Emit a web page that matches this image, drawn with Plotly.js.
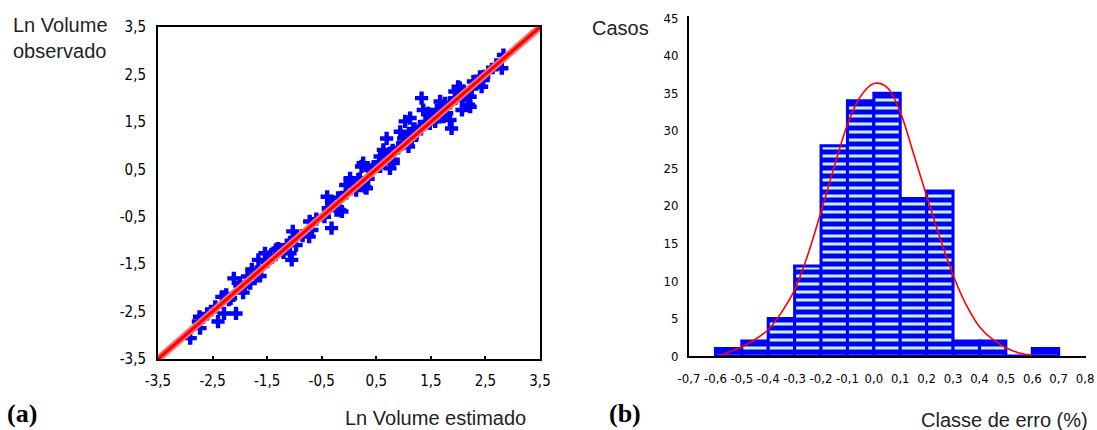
<!DOCTYPE html>
<html>
<head>
<meta charset="utf-8">
<script src="https://cdn.plot.ly/plotly-3.0.1.min.js"></script>
<style>html,body{margin:0;padding:0;background:#fff;}#chart{width:1097px;height:430px;}</style>
</head>
<body>
<div id="chart"></div>
<script>
// ---- Panel (a): observed vs estimated Ln Volume ----
var estimated = [-2.91,-2.74,-2.73,-2.76,-2.40,-2.29,-2.07,-2.33,-2.25,-2.17,-2.11,-2.00,-1.91,-1.81,-1.86,-1.94,-1.78,-1.66,-1.69,-1.63,
  -1.54,-1.45,-1.34,-1.30,-1.22,-1.14,-1.03,-1.05,-0.97,-1.08,-0.72,-0.73,-0.68,-0.40,-0.32,-0.23,-0.17,-0.32,-0.38,0.02,
  0.08,0.13,-0.06,0.26,0.32,0.39,0.17,0.69,0.63,0.75,0.81,0.94,1.03,1.12,1.00,1.18,1.15,1.33,1.36,1.45,
  1.48,1.58,1.67,1.76,1.79,1.85,1.88,1.94,2.03,2.07,2.16,2.19,2.07,2.37,2.43,2.83,2.80,2.28,2.43,-0.13,
  0.23,0.29,0.57,0.57,0.75,0.81,1.09,1.24,1.61,1.73,2.22,2.22,2.00,2.46,
  -2.60,-2.45,-2.20,-2.00,-1.70,-1.50,-1.35,-1.20,-1.00,-0.85,-0.60,-0.45,-0.30,-0.20,-0.05,0.05,0.20,0.35,0.45,0.55,
  0.65,0.80,0.90,1.00,1.10,1.20,1.30,1.40,1.50,1.60,1.70,1.85,1.95,2.10,2.25,2.40,2.55,2.70];
var observed = [-3.06,-2.61,-2.85,-2.71,-2.71,-2.54,-2.54,-2.19,-2.15,-2.22,-1.80,-1.90,-1.97,-1.90,-1.76,-2.10,-1.61,-1.41,-1.66,-1.75,
  -1.27,-1.34,-1.20,-1.17,-1.20,-1.10,-0.81,-1.41,-1.10,-1.27,-0.60,-0.92,-0.78,-0.08,-0.22,-0.36,-0.36,-0.74,-0.32,0.31,
  0.21,0.06,0.17,0.63,0.10,0.49,0.28,1.15,0.91,0.84,0.70,1.29,1.51,1.58,1.05,1.33,1.12,2.00,1.75,1.68,
  1.47,1.51,1.93,1.89,1.68,1.54,1.36,2.14,2.21,1.96,2.07,1.86,1.75,2.35,2.42,2.91,2.63,2.35,2.24,-0.39,
  0.56,0.13,0.77,0.56,0.52,0.63,0.98,1.26,1.75,1.61,2.03,1.82,2.24,2.38,
  -2.55,-2.40,-2.25,-1.95,-1.75,-1.45,-1.30,-1.25,-0.95,-0.90,-0.55,-0.50,-0.25,-0.10,0.00,0.15,0.30,0.30,0.55,0.65,
  0.75,0.90,0.95,1.15,1.25,1.35,1.40,1.50,1.65,1.60,1.80,1.90,2.00,2.15,2.20,2.45,2.55,2.70];
var lineX = [-3.5, 3.5];
var lineY = [-3.5, 3.5];
var tickValsA = [-3.5,-2.5,-1.5,-0.5,0.5,1.5,2.5,3.5];
var tickTextA = ['-3,5','-2,5','-1,5','-0,5','0,5','1,5','2,5','3,5'];
var tickTextAy = ['-3,5','-2,5','-1,5','-0,5','0,5','1,5','2,5','3,5'];

// ---- Panel (b): histogram of errors ----
var binCenters = [-0.55,-0.45,-0.35,-0.25,-0.15,-0.05,0.05,0.15,0.25,0.35,0.45,0.55,0.65];
var counts =     [1, 2, 5, 12, 28, 34, 35, 21, 22, 2, 2, 0, 1];
var curveX = [-0.58,-0.55,-0.5,-0.45,-0.4,-0.35,-0.3,-0.25,-0.2,-0.15,-0.1,-0.05,0,0.05,0.1,0.15,0.2,0.25,0.3,0.35,0.4,0.45,0.5,0.55,0.6];
var curveY = [0.1,0.5,1.2,2.2,3.5,5.8,8.8,13.5,19.2,25.2,30.8,34.6,36.3,35.8,32.5,27.0,21.3,15.8,10.8,6.8,3.9,2.2,1.1,0.4,0.1];
var tickValsBx = [-0.7,-0.6,-0.5,-0.4,-0.3,-0.2,-0.1,0,0.1,0.2,0.3,0.4,0.5,0.6,0.7,0.8];
var tickTextBx = ['-0,7','-0,6','-0,5','-0,4','-0,3','-0,2','-0,1','0,0','0,1','0,2','0,3','0,4','0,5','0,6','0,7','0,8'];
var tickValsBy = [0,5,10,15,20,25,30,35,40,45];
var tickTextBy = ['0','5','10','15','20','25','30','35','40','45'];

var W = 1097, H = 430;
function px(x){return x / W;}
function py(y){return (H - y) / H;}
var tickFontA = {family: 'DejaVu Sans Condensed, Liberation Sans Narrow, sans-serif', size: 15, color: '#000'};
var tickFontB = {family: 'DejaVu Sans Condensed, Liberation Sans Narrow, sans-serif', size: 13, color: '#000'};
var titleFont = {family: 'Liberation Sans, Arial, sans-serif', size: 20, color: '#222'};
var tagFont = {family: 'Liberation Serif, Times New Roman, serif', size: 26, color: '#000', weight: 'bold'};

var traces = [
  {type: 'scatter', mode: 'markers', x: estimated, y: observed, xaxis: 'x', yaxis: 'y',
   marker: {symbol: 'cross', size: 11, color: '#0000ff', line: {width: 0}}, hoverinfo: 'skip'},
  {type: 'scatter', mode: 'lines', x: lineX, y: lineY, xaxis: 'x', yaxis: 'y',
   line: {color: '#ff6b6b', width: 7}, hoverinfo: 'skip'},
  {type: 'scatter', mode: 'lines', x: lineX, y: lineY, xaxis: 'x', yaxis: 'y',
   line: {color: '#ff0000', width: 3}, hoverinfo: 'skip'},
  {type: 'bar', x: binCenters, y: counts, width: 0.1, xaxis: 'x2', yaxis: 'y2',
   marker: {color: '#0000ff', line: {color: '#0000ff', width: 3},
            pattern: {shape: '-', bgcolor: '#0000ff', fgcolor: '#c6f3d2', size: 8, solidity: 0.38}},
   hoverinfo: 'skip'},
  {type: 'scatter', mode: 'lines', x: curveX, y: curveY, xaxis: 'x2', yaxis: 'y2',
   line: {color: '#ff0000', width: 1.6, shape: 'spline'}, hoverinfo: 'skip'}
];

var layout = {
  width: W, height: H,
  margin: {l: 0, r: 0, t: 0, b: 0},
  paper_bgcolor: '#ffffff', plot_bgcolor: '#ffffff',
  showlegend: false,
  bargap: 0,
  xaxis: {domain: [px(158), px(540)], range: [-3.5, 3.5], anchor: 'y',
          tickvals: tickValsA, ticktext: tickTextA, tickfont: tickFontA, tickangle: 0,
          ticks: 'inside', ticklen: 3, tickwidth: 2, tickcolor: '#000', ticklabelstandoff: 7,
          showline: true, linecolor: '#000', linewidth: 2, mirror: true,
          showgrid: false, zeroline: false},
  yaxis: {domain: [py(359), py(27)], range: [-3.5, 3.5], anchor: 'x',
          tickvals: tickValsA, ticktext: tickTextAy, tickfont: tickFontA,
          ticks: '', ticklabelstandoff: 7,
          showline: true, linecolor: '#000', linewidth: 2, mirror: true,
          showgrid: false, zeroline: false},
  xaxis2: {domain: [px(689), px(1086)], range: [-0.7, 0.8035], anchor: 'y2',
           tickvals: tickValsBx, ticktext: tickTextBx, tickfont: tickFontB, tickangle: 0,
           ticklabeloverflow: 'allow',
           ticks: '', ticklabelstandoff: 9,
           showline: true, linecolor: '#000', linewidth: 2,
           showgrid: false, zeroline: false},
  yaxis2: {domain: [py(356), py(16)], range: [0, 45.3], anchor: 'x2',
           tickvals: tickValsBy, ticktext: tickTextBy, tickfont: tickFontB,
           ticks: '', ticklabelstandoff: 6,
           showline: true, linecolor: '#000', linewidth: 2,
           showgrid: false, zeroline: false},
  annotations: [
    {xref: 'paper', yref: 'paper', x: px(11), y: py(12), xanchor: 'left', yanchor: 'top', align: 'left',
     text: 'Ln Volume<br>observado', showarrow: false, font: titleFont},
    {xref: 'paper', yref: 'paper', x: px(435), y: py(418), xanchor: 'center', yanchor: 'middle',
     text: 'Ln Volume estimado', showarrow: false, font: titleFont},
    {xref: 'paper', yref: 'paper', x: px(620), y: py(28), xanchor: 'center', yanchor: 'middle',
     text: 'Casos', showarrow: false, font: titleFont},
    {xref: 'paper', yref: 'paper', x: px(1004), y: py(420), xanchor: 'center', yanchor: 'middle',
     text: 'Classe de erro (%)', showarrow: false, font: titleFont},
    {xref: 'paper', yref: 'paper', x: px(5), y: py(413), xanchor: 'left', yanchor: 'middle',
     text: '<b>(a)</b>', showarrow: false, font: tagFont},
    {xref: 'paper', yref: 'paper', x: px(607), y: py(413), xanchor: 'left', yanchor: 'middle',
     text: '<b>(b)</b>', showarrow: false, font: tagFont}
  ]
};

Plotly.newPlot('chart', traces, layout, {staticPlot: true, displayModeBar: false});
</script>
</body>
</html>
